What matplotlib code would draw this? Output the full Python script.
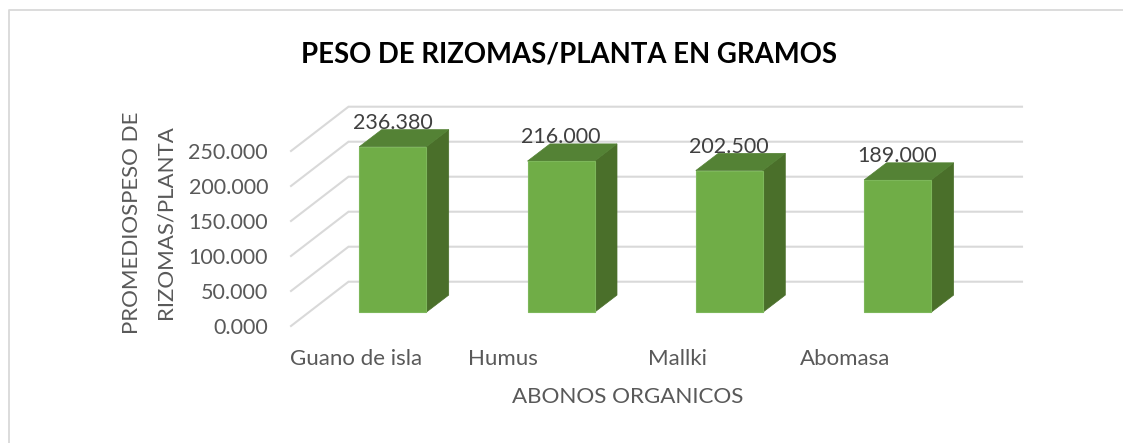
import matplotlib.pyplot as plt
from matplotlib.lines import Line2D
from matplotlib.patches import Polygon

plt.rcParams['font.family'] = ['Lato', 'DejaVu Sans']

categories = ['Guano de isla', 'Humus', 'Mallki', 'Abomasa']
values = [236.380, 216.000, 202.500, 189.000]
yticks = [0, 50, 100, 150, 200, 250]

W, H = 1123, 443
GRID = '#D9D9D9'
TXT = '#595959'

# picture geometry in pixels
left, right, floor_y, top_y = 291, 1022, 326, 100
px_per_val = 0.7          # 35 px for each 50
step = 168.3              # distance between bars
first_bar = 392.7

fig = plt.figure(figsize=(W / 100, H / 100), dpi=100, facecolor='white')
ax = fig.add_axes([left / W, 1 - floor_y / H, (right - left) / W, (floor_y - top_y) / H])
ax.set_xlim((left - first_bar) / step, (right - first_bar) / step)
ax.set_ylim(0, (floor_y - top_y) / px_per_val)
ax.patch.set_alpha(0)
for s in ax.spines.values():
    s.set_visible(False)


def dx(px):
    return px / step


def dy(px):
    return px / px_per_val


x0 = ax.get_xlim()[0]
x1 = ax.get_xlim()[1]

# walls: diagonal part then back line for every tick
for t in yticks:
    ax.plot([x0, x0 + dx(57.5), x1], [t, t + dy(44.3), t + dy(44.3)], color=GRID, lw=1.5,
            clip_on=False, zorder=1, solid_joinstyle='miter')

# bars, the front face stands 13.7 px behind the front of the floor
base = dy(13.7)
bw = dx(67)
ox, oy = dx(22.5), dy(17.2)
for i, v in enumerate(values):
    xa, xb = i - bw / 2, i + bw / 2
    ya, yb = base, base + v
    ax.add_patch(Polygon([(xb, ya), (xb + ox, ya + oy), (xb + ox, yb + oy), (xb, yb)],
                         fc='#4A6F2A', ec='#4A6F2A', lw=0.5, zorder=3))
    ax.add_patch(Polygon([(xa, yb), (xa + ox, yb + oy), (xb + ox, yb + oy), (xb, yb)],
                         fc='#548235', ec='#548235', lw=0.5, zorder=3))
    ax.add_patch(Polygon([(xa, ya), (xb, ya), (xb, yb), (xa, yb)],
                         fc='#70AD47', ec='#7DB75A', lw=0.8, zorder=4))
    ax.text(i, yb + oy - dy(3.5), f'{v:.3f}', ha='center', va='bottom', fontsize=15.5,
            color='#404040', zorder=5)

ax.set_yticks(yticks, [f'{t:.3f}' for t in yticks], fontsize=15.5, color=TXT)
ax.tick_params(axis='y', length=0, pad=16.5)
ax.set_xticks([])

# category labels sit left of their bars
label_px = [356, 503, 678, 845]
for name, p in zip(categories, label_px):
    fig.text(p / W, 1 - 359 / H, name, ha='center', va='center', fontsize=16, color=TXT)

fig.text(569 / W, 1 - 55 / H, 'PESO DE RIZOMAS/PLANTA EN GRAMOS', ha='center', va='center',
         fontsize=19.8, fontweight='bold', color='black')
fig.text(628 / W, 1 - 397 / H, 'ABONOS ORGANICOS', ha='center', va='center', fontsize=16.1, color=TXT)
fig.text(132 / W, 1 - 223 / H, 'PROMEDIOSPESO DE', rotation=90, ha='center', va='center',
         fontsize=16, color=TXT)
fig.text(165 / W, 1 - 222 / H, 'RIZOMAS/PLANTA', rotation=90, ha='center', va='center',
         fontsize=16, color=TXT)

# chart frame, only left and top show in the picture
fig.add_artist(Line2D([8.5 / W, 8.5 / W, 1], [0, 1 - 10 / H, 1 - 10 / H], color=GRID, lw=1.3))

fig.savefig('out.png', dpi=100)
